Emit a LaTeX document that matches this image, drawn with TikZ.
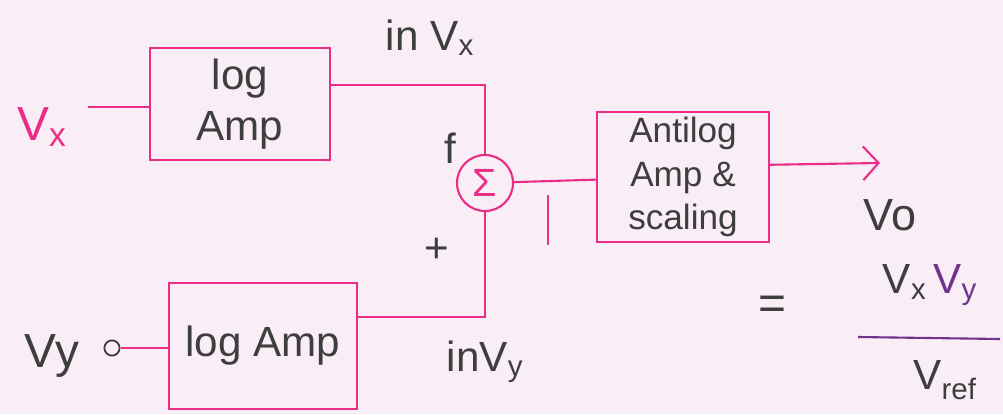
\documentclass[tikz,border=0pt]{standalone}
\usepackage{fontspec}
\setmainfont{Liberation Sans}
\usetikzlibrary{arrows.meta}

\definecolor{paper}{RGB}{249,237,246}
\definecolor{pen}{RGB}{234,45,135}
\definecolor{ink}{RGB}{62,62,62}
\definecolor{inkpurple}{RGB}{112,52,142}

\begin{document}
\begin{tikzpicture}[x=0.025cm, y=-0.025cm,
    wire/.style={pen, line width=1.5pt},
    block/.style={draw=pen, line width=1.5pt, text=ink, align=center, font=\fontsize{30}{36}\selectfont},
    lbl/.style={text=ink, inner sep=0pt, font=\fontsize{30}{34}\selectfont}]
  \path[fill=paper, use as bounding box] (0,0) rectangle (1003,414);
  % blocks
  \node[block, minimum width=4.5cm, minimum height=2.8cm] (logx) at (240,104) {log\\Amp};
  \node[block, minimum width=4.7cm, minimum height=3.15cm] (logy) at (263,346) {log Amp};
  \node[block, circle, minimum size=1.4cm, inner sep=0pt, text=pen, font=\fontsize{28}{32}\selectfont] (sum) at (485,183) {Σ};
  \node[block, minimum width=4.3cm, minimum height=3.1cm, font=\fontsize{25}{31}\selectfont] (antilog) at (683,177) {Antilog\\Amp \&\\scaling};
  \node[draw=ink, circle, line width=1.3pt, inner sep=0pt, minimum size=0.38cm] (term) at (112,348) {};
  % labels
  \node[lbl, text=pen, font=\fontsize{34}{38}\selectfont] (vx) at (42,127) {V\textsubscript{x}};
  \node[lbl] (lnvx) at (430,38) {in V\textsubscript{x}};
  \node[lbl] (f) at (450,148) {f};
  \node[lbl] (plus) at (437,250) {+};
  \node[lbl] (lnvy) at (485,362) {inV\textsubscript{y}};
  \node[lbl, font=\fontsize{34}{38}\selectfont] (vy) at (52,356) {Vy};
  \node[lbl, font=\fontsize{32}{36}\selectfont] (vo) at (890,215) {Vo};
  \node[lbl, font=\fontsize{34}{38}\selectfont] (eq) at (772,308) {=};
  \node[lbl] (num) at (930,285) {V\textsubscript{x}\,\textcolor{inkpurple}{V\textsubscript{y}}};
  \node[lbl] (den) at (945,380) {V\textsubscript{ref}};
  \coordinate (vxin) at (88,107);
  \coordinate (vout) at (880,163);
  % connections
  \draw[wire] (vxin) -- (logx.west |- vxin);
  \draw[wire] (logx.12) -| (sum.north);
  \draw[wire] (logy.17) -| (sum.south);
  \draw[wire] (term) -- (logy.west |- term);
  \draw[wire] (sum) -- (antilog);
  \draw[wire] (548,195) -- (548,245);
  \draw[wire, -{Straight Barb[length=11pt, width=24pt]}] (antilog.8) -- (vout);
  \draw[inkpurple, line width=1.5pt] (858,337) -- (1000,339);
\end{tikzpicture}
\end{document}
